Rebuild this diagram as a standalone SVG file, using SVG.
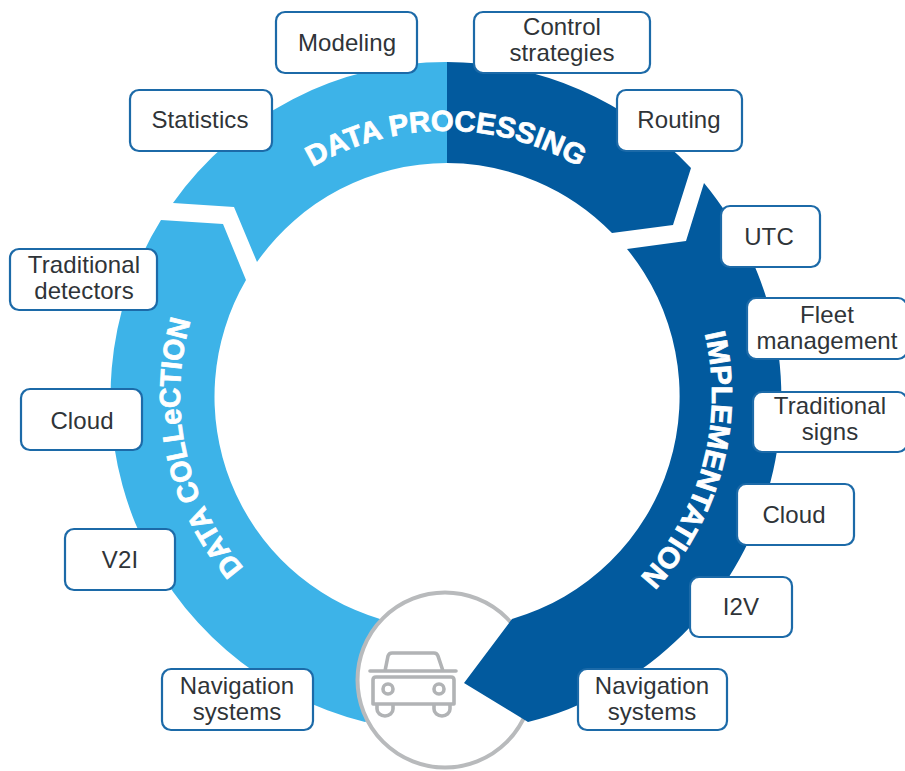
<svg xmlns="http://www.w3.org/2000/svg" width="905" height="771" viewBox="0 0 905 771">
<style>
.b rect{fill:#fff;stroke:#1c6aa8;stroke-width:2.2}
.b text{font-family:"Liberation Sans",Arial,sans-serif;font-size:24px;letter-spacing:.1px;fill:#2f3438;text-anchor:middle}
.r{font-family:"Liberation Sans",Arial,sans-serif;font-size:29px;font-weight:700;fill:#fff;stroke:#fff;stroke-width:.8;text-anchor:middle}
.c{fill:none;stroke:#b1b3b5;stroke-width:3.6;stroke-linejoin:round;stroke-linecap:round}
</style>
<defs>
<path id="tp1" d="M196 310A264 264 0 0 1 696 310"/>
<path id="tp2" d="M446 661A266 266 0 0 1 446 129"/>
<path id="tp3" d="M446 129A266 266 0 0 1 446 661"/>
</defs>
<rect width="905" height="771" fill="#fff"/>
<g id="connectors"></g>
<g id="ring">
<path fill="#3db3e8" d="M447 62A335 335 0 0 0 173 203L234 207L257 262A232 232 0 0 1 447 163Z"/>
<path fill="#3db3e8" d="M161 220L223 224L246 280A232 232 0 0 0 380 619L445 680L365 722A335 335 0 0 1 161 220Z"/>
<path fill="#025a9e" d="M447 62A335 335 0 0 1 691 168L673 225L612 233A232 232 0 0 0 447 163Z"/>
</g>
<g id="car">
<circle cx="445" cy="680" r="87.5" fill="#fff" stroke="#b8babc" stroke-width="4"/>
<path class="c" d="M370 671H456M385 671L388 656Q389 653 392 653H434Q437 653 438 656L443 671M373 704V680Q373 677 376 677H451Q454 677 454 680V704ZM377 704V709A8 7 0 0 0 393 709V704M434 704V709A8 7 0 0 0 450 709V704"/>
<circle class="c" cx="388" cy="689" r="5"/>
<circle class="c" cx="439" cy="689" r="5"/>
</g>
<g id="ring-front">
<path fill="#025a9e" d="M704 183A335 335 0 0 1 528 722L464 683L512 619A232 232 0 0 0 627 249L686 241Z"/>
<text class="r"><textPath href="#tp1" startOffset="50%" textLength="280" lengthAdjust="spacingAndGlyphs">DATA PROCESSING</textPath></text>
<text class="r"><textPath href="#tp2" startOffset="43.25%" textLength="264" lengthAdjust="spacingAndGlyphs">DATA COLLeCTION</textPath></text>
<text class="r"><textPath href="#tp3" startOffset="58.3%" textLength="263" lengthAdjust="spacingAndGlyphs">IMPLEMENTATION</textPath></text>
</g>
<g id="n-modeling" class="b"><rect x="276" y="12" width="141" height="61" rx="9"/><text x="347" y="51">Modeling</text></g>
<g id="n-control" class="b"><rect x="474" y="12" width="176" height="61" rx="9"/><text x="562" y="35">Control</text><text x="562" y="61">strategies</text></g>
<g id="n-statistics" class="b"><rect x="130" y="90" width="142" height="61" rx="9"/><text x="200" y="128">Statistics</text></g>
<g id="n-routing" class="b"><rect x="617" y="90" width="125" height="61" rx="9"/><text x="679" y="128">Routing</text></g>
<g id="n-utc" class="b"><rect x="721" y="206" width="99" height="61" rx="9"/><text x="769" y="245">UTC</text></g>
<g id="n-fleet" class="b"><rect x="747" y="298" width="160" height="61" rx="9"/><text x="827" y="323">Fleet</text><text x="827" y="349">management</text></g>
<g id="n-signs" class="b"><rect x="753" y="392" width="154" height="60" rx="9"/><text x="830" y="414">Traditional</text><text x="830" y="440">signs</text></g>
<g id="n-cloud-r" class="b"><rect x="737" y="484" width="117" height="61" rx="9"/><text x="794" y="523">Cloud</text></g>
<g id="n-i2v" class="b"><rect x="690" y="577" width="102" height="60" rx="9"/><text x="741" y="615">I2V</text></g>
<g id="n-nav-r" class="b"><rect x="578" y="669" width="149" height="61" rx="9"/><text x="652" y="694">Navigation</text><text x="652" y="720">systems</text></g>
<g id="n-detectors" class="b"><rect x="10" y="249" width="147" height="61" rx="9"/><text x="84" y="273">Traditional</text><text x="84" y="299">detectors</text></g>
<g id="n-cloud-l" class="b"><rect x="21" y="389" width="121" height="61" rx="9"/><text x="82" y="429">Cloud</text></g>
<g id="n-v2i" class="b"><rect x="65" y="529" width="110" height="61" rx="9"/><text x="120" y="568">V2I</text></g>
<g id="n-nav-l" class="b"><rect x="162" y="669" width="151" height="61" rx="9"/><text x="237" y="694">Navigation</text><text x="237" y="720">systems</text></g>
</svg>
